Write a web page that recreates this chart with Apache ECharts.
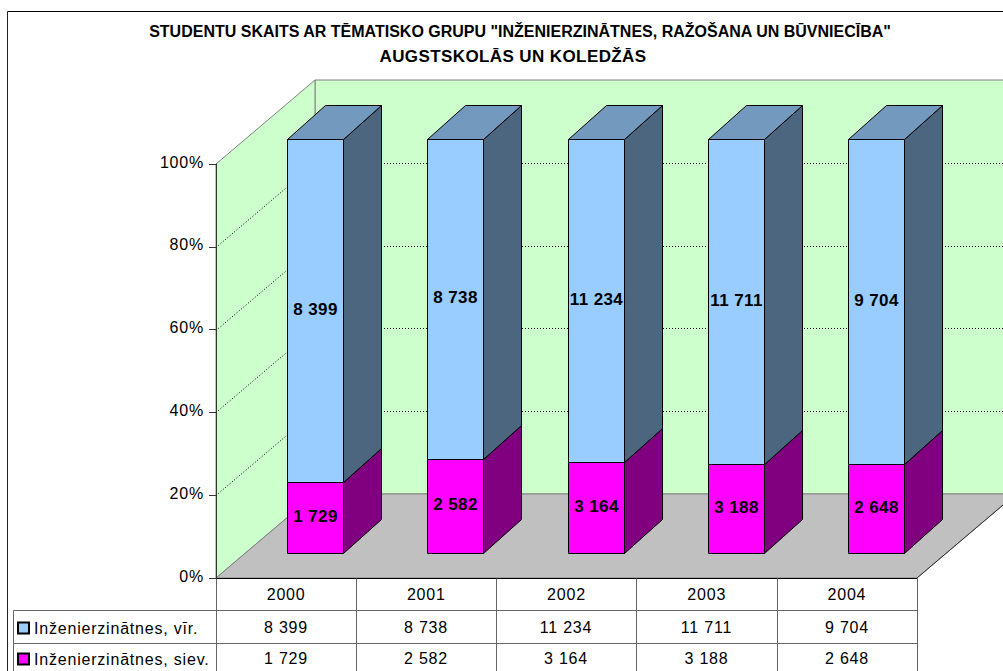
<!DOCTYPE html>
<html><head><meta charset="utf-8">
<style>
html,body{margin:0;padding:0;background:#fff}
#c{width:1003px;height:671px}
text{letter-spacing:0.8px}
text[style*="bold"]{letter-spacing:0}
text[style*="bold"][style*="17px"]{letter-spacing:0.4px}
</style>
<script src="https://cdn.jsdelivr.net/npm/echarts@6/dist/echarts.min.js"></script>
</head><body><div id="c"></div>
<script>
const categories = ['2000','2001','2002','2003','2004'];
const men = [8399,8738,11234,11711,9704];
const women = [1729,2582,3164,3188,2648];
const menName = 'Inženierzinātnes, vīr.';
const womenName = 'Inženierzinātnes, siev.';
const yTicks = [20,40,60,80,100];
const titleLine1 = 'STUDENTU SKAITS AR TĒMATISKO GRUPU "INŽENIERZINĀTNES, RAŽOŠANA UN BŪVNIECĪBA"';
const titleLine2 = 'AUGSTSKOLĀS UN KOLEDŽĀS';

const fmt = v => String(v).replace(/\B(?=(\d{3})+$)/g,' ');
const FONT = "'Liberation Sans', Arial, sans-serif";
const G = {left:216, right:917, top:164, bottom:578, dx:99, dy:84};
const B = {shift:29, lift:25, width:56, dx:38, dy:34};
const px = v => Math.round(v)+0.5;
const LINE = '#000', TABLE = '#666', WALL = '#808080';

function poly(points, fill, stroke){
  return {type:'polygon', shape:{points}, style:{fill, stroke:stroke||LINE, lineWidth:1}};
}
function line(x1,y1,x2,y2,stroke,dash){
  return {type:'line', shape:{x1,y1,x2,y2}, style:{stroke, lineWidth:1, lineDash:dash||null}};
}
function renderWalls(params, api){
  const c = params.coordSys, L=c.x, R=c.x+c.width, T=c.y, F=c.y+c.height, dx=G.dx, dy=G.dy;
  const kids = [
    poly([[L+dx,T-dy],[R+dx,T-dy],[R+dx,F-dy],[L+dx,F-dy]],'#CCFFCC',WALL),
    poly([[L,T],[L+dx,T-dy],[L+dx,F-dy],[L,F]],'#CCFFCC',WALL),
    poly([[L,F],[L+dx,F-dy],[R+dx,F-dy],[R,F]],'#C0C0C0',WALL),
    line(R,F,R+dx,F-dy,'#333')
  ];
  yTicks.forEach(t=>{
    if(t===100) return;
    const y = px(api.coord([0,t])[1]);
    kids.push(line(L,y,L+dx,y-dy,'#000',[1,2]));
    kids.push(line(L+dx,y-dy,R+dx,y-dy,'#000',[1,2]));
  });
  return {type:'group', children:kids};
}
function barRenderer(front, side, topFace){
  return function(params, api){
    const i = api.value(0), from = api.value(1), to = api.value(2), raw = api.value(3);
    const ctr = api.coord([i,from]), end = api.coord([i,to]);
    const x0 = px(ctr[0]+B.shift-B.width/2), x1 = x0+B.width;
    const y0 = px(ctr[1]-B.lift), y1 = px(end[1]-B.lift);
    const kids = [
      poly([[x0,y0],[x1,y0],[x1,y1],[x0,y1]],front),
      poly([[x1,y0],[x1+B.dx,y0-B.dy],[x1+B.dx,y1-B.dy],[x1,y1]],side)
    ];
    if(topFace) kids.push(poly([[x0,y1],[x0+B.dx,y1-B.dy],[x1+B.dx,y1-B.dy],[x1,y1]],topFace));
    kids.push({type:'text', z2:5, style:{text:fmt(raw), x:(x0+x1)/2, y:(y0+y1)/2-2,
      textAlign:'center', textVerticalAlign:'middle', fontSize:17, fontWeight:'bold', fontFamily:FONT, fill:'#000'}});
    return {type:'group', children:kids};
  };
}
const totals = men.map((m,i)=>m+women[i]);
const womenData = women.map((w,i)=>[i,0,w/totals[i]*100,w]);
const menData = men.map((m,i)=>[i,women[i]/totals[i]*100,100,m]);

// data table + frame
const colX = [216,356,496,636,777,917];
const rowY = [578,610,643];
const tableBottom = 680;
const g = [];
const gl = (x1,y1,x2,y2,c)=>g.push({type:'line',silent:true,z:1,shape:{x1:x1+.5,y1:y1+.5,x2:x2+.5,y2:y2+.5},style:{stroke:c,lineWidth:1}});
gl(7,11,1010,11,'#000'); gl(7,11,7,680,'#222');
colX.forEach(x=>gl(x,578,x,tableBottom,TABLE));
gl(13,rowY[1],917,rowY[1],TABLE); gl(13,rowY[2],917,rowY[2],TABLE); gl(13,rowY[1],13,tableBottom,TABLE);
[[men,627],[women,658]].forEach(([vals,y])=>vals.forEach((v,i)=>g.push({type:'text',silent:true,z:2,
  style:{text:fmt(v),x:(colX[i]+colX[i+1])/2,y,textAlign:'center',textVerticalAlign:'middle',fontSize:16,fontFamily:FONT,fill:'#000'}})));

const chart = echarts.init(document.getElementById('c'),null,{renderer:'svg',width:1003,height:671});
chart.setOption({
  animation:false, backgroundColor:'#fff',
  title:[
    {text:titleLine1,left:520,top:23,padding:0,textAlign:'center',
      textStyle:{fontFamily:FONT,fontSize:16,fontWeight:'bold',color:'#000'}},
    {text:titleLine2,left:513,top:48,padding:0,textAlign:'center',
      textStyle:{fontFamily:FONT,fontSize:17,fontWeight:'bold',color:'#000'}}
  ],
  legend:{data:[{name:menName,icon:'rect'},{name:womenName,icon:'rect'}],orient:'vertical',left:17,top:620,height:70,padding:0,itemWidth:11,itemHeight:11,itemGap:15,selectedMode:false,
    textStyle:{fontFamily:FONT,fontSize:16,color:'#000',padding:[0,0,0,0]}},
  grid:{left:G.left,right:1003-G.right,top:G.top,bottom:671-G.bottom,containLabel:false},
  xAxis:{type:'category',data:categories,axisLine:{lineStyle:{color:'#000'}},axisTick:{show:false},
    axisLabel:{margin:8,fontFamily:FONT,fontSize:16,color:'#000'}},
  yAxis:{type:'value',min:0,max:100,interval:20,splitLine:{show:false},
    axisLine:{show:true,lineStyle:{color:'#333'}},axisTick:{show:true,length:7,lineStyle:{color:'#333'}},
    axisLabel:{formatter:'{a|{value}%}',margin:12,rich:{a:{fontFamily:FONT,fontSize:16,color:'#000',padding:[0,0,4,0]}}}},
  tooltip:{show:false},
  graphic:g,
  series:[
    {type:'custom',name:'walls',silent:true,z:0,data:[0],renderItem:renderWalls,clip:false},
    {type:'custom',name:womenName,z:2,data:womenData,renderItem:barRenderer('#FF00FF','#800080'),clip:false,
      itemStyle:{color:'#FF00FF',borderColor:'#000',borderWidth:1},encode:{x:0,y:2}},
    {type:'custom',name:menName,z:3,data:menData,renderItem:barRenderer('#99CCFF','#4D6680','#7399BF'),clip:false,
      itemStyle:{color:'#99CCFF',borderColor:'#000',borderWidth:1},encode:{x:0,y:2}}
  ]
});
</script></body></html>
